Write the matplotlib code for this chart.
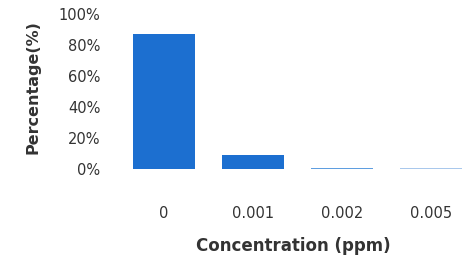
import matplotlib
matplotlib.use("Agg")
import matplotlib.pyplot as plt

# data
concentrations = ["0", "0.001", "0.002", "0.005"]
percentages = [87, 9, 0.8, 0.4]
bar_colors = ["#1c6fd0", "#1c6fd0", "#5f9ee0", "#a9c8ec"]
y_ticks = [0, 20, 40, 60, 80, 100]

plt.rcParams['font.family'] = ['DejaVu Sans']
text_color = "#333333"

fig = plt.figure(figsize=(4.66, 2.62), dpi=100)
ax = fig.add_axes([120 / 466, 93 / 262, 346 / 466, 155 / 262])

x = range(len(concentrations))
ax.bar(x, percentages, width=0.7, color=bar_colors)

ax.set_xlim(-0.494, 3.393)
ax.set_ylim(0, 100)
ax.set_yticks(y_ticks)
ax.set_yticklabels([f"{v}%" for v in y_ticks])
ax.set_xticks(list(x))
ax.set_xticklabels(concentrations)

ax.tick_params(axis="y", length=0, pad=14, labelsize=10.5, labelcolor=text_color)
ax.tick_params(axis="x", length=0, pad=27, labelsize=10.5, labelcolor=text_color)

for side in ["top", "right", "left", "bottom"]:
    ax.spines[side].set_visible(False)

ax.set_ylabel("Percentage(%)", fontsize=11.5, fontweight="bold", color=text_color)
ax.yaxis.set_label_coords(-0.23, 0.53)
ax.set_xlabel("Concentration (ppm)", fontsize=12, fontweight="bold", color=text_color, labelpad=11)

fig.savefig("out.png", dpi=100)
